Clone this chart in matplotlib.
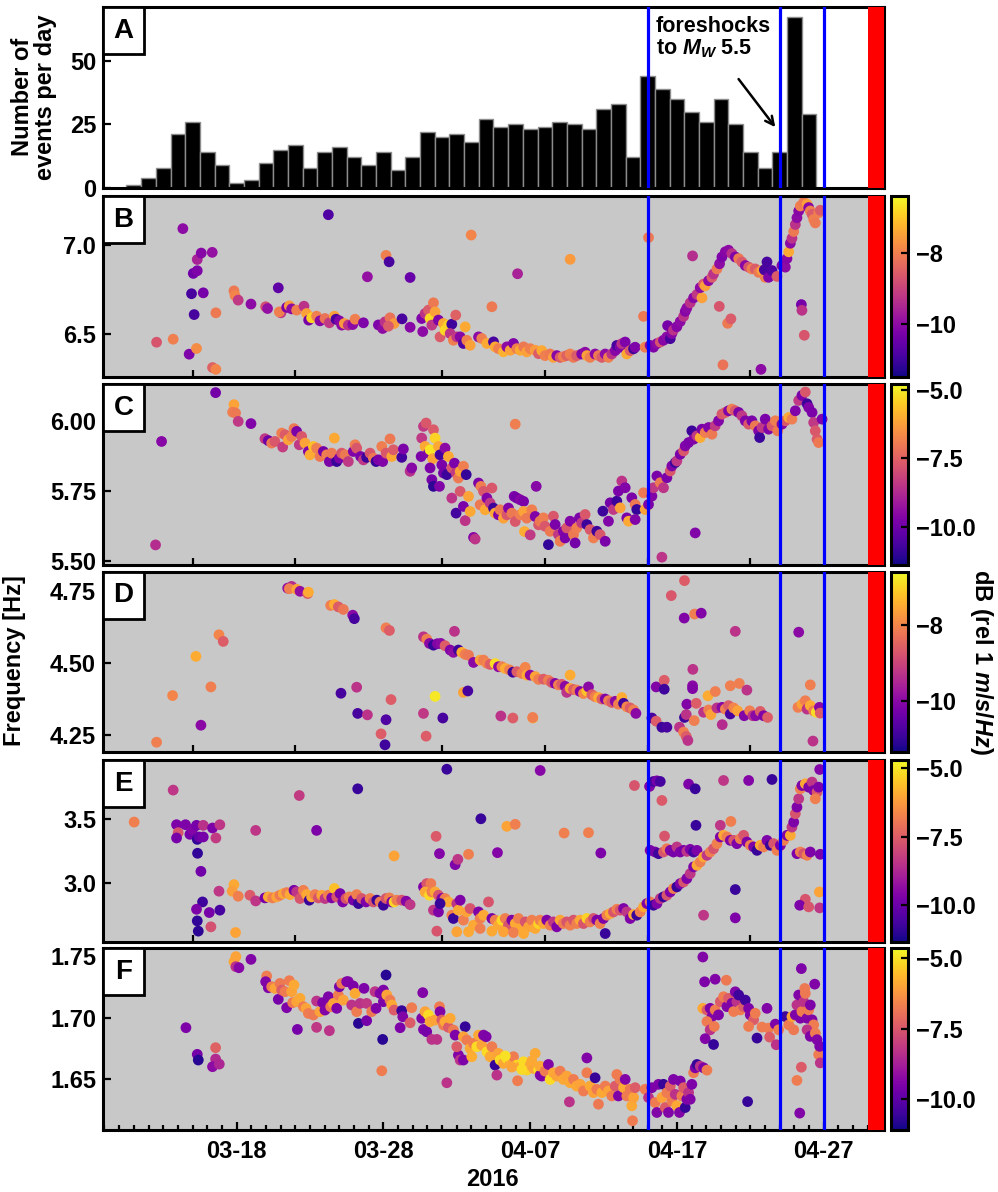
import numpy as np
import matplotlib
matplotlib.use("Agg")
import matplotlib.pyplot as plt
import matplotlib.dates as mdates
from matplotlib.patches import Rectangle
from matplotlib.ticker import FixedLocator, FormatStrFormatter, FuncFormatter

plt.rcParams["font.family"] = ["Liberation Sans", "DejaVu Sans"]
plt.rcParams["font.weight"] = "bold"
plt.rcParams["mathtext.fontset"] = "custom"
plt.rcParams["mathtext.rm"] = "Liberation Sans:bold"
plt.rcParams["mathtext.it"] = "Liberation Sans:bold:italic"
plt.rcParams["mathtext.bf"] = "Liberation Sans:bold"

# time is counted in days from 2016-02-29, so day 18 = 03-18 and day 32 = 04-01
count_days = [10, 11, 12, 13, 14, 15, 16, 17, 18, 19, 20, 21, 22, 23, 24, 25,
              26, 27, 28, 29, 30, 31, 32, 33, 34, 35, 36, 37, 38, 39, 40, 41,
              42, 43, 44, 45, 46, 47, 48, 49, 50, 51, 52, 53, 54, 55, 56, 57]
event_counts = [0, 1, 4, 8, 21, 26, 14, 9, 2, 3, 10, 15, 17, 8, 14, 16,
                12, 9, 14, 7, 12, 22, 20, 21, 18, 27, 24, 25, 23, 24, 26, 25,
                23, 31, 33, 12, 44, 39, 35, 30, 26, 35, 25, 14, 8, 14, 67, 29]

marker_days = [46.0, 55.0, 58.0]
mainshock_day = 61.0
x_start, x_end = 8.9, 62.1
label_days = [18, 28, 38, 48, 58]

# (day, frequency in Hz, level in dB)
events_b = [
    (12.55, 6.455, -8.7), (13.68, 6.472, -8.0), (14.34, 7.092, -10.0), (14.77, 6.388, -10.2),
    (14.93, 6.727, -10.9), (15.05, 6.841, -10.4), (15.32, 6.856, -10.2), (15.32, 6.919, -9.6),
    (15.59, 6.955, -10.1), (15.11, 6.610, -10.9), (15.73, 6.732, -10.3), (15.27, 6.420, -7.8),
    (16.34, 6.959, -9.9), (16.59, 6.620, -8.1), (16.36, 6.313, -8.5), (16.59, 6.303, -7.9),
    (17.82, 6.743, -8.1), (17.89, 6.717, -7.9), (18.11, 6.691, -9.2), (18.98, 6.669, -10.0),
    (19.98, 6.654, -8.8), (20.11, 6.644, -9.9), (20.84, 6.760, -10.6), (21.02, 6.620, -9.2),
    (20.91, 6.625, -8.0), (21.41, 6.650, -10.2), (21.59, 6.659, -7.6), (21.75, 6.642, -10.0),
    (22.09, 6.635, -8.0), (22.59, 6.657, -9.3), (22.77, 6.616, -7.5), (22.91, 6.579, -10.3),
    (23.11, 6.592, -6.9), (23.45, 6.601, -8.0), (23.68, 6.575, -10.1), (24.02, 6.588, -8.2),
    (24.32, 6.564, -9.2), (24.66, 6.601, -7.5), (24.77, 6.584, -10.9), (25.00, 6.575, -10.2),
    (25.16, 6.551, -10.0), (25.34, 6.560, -7.6), (25.61, 6.551, -9.3), (25.91, 6.554, -10.0),
    (26.07, 6.584, -8.0), (26.64, 6.564, -10.2), (24.25, 7.170, -10.8), (26.91, 6.822, -9.9),
    (28.18, 6.942, -8.0), (28.39, 6.906, -10.9), (27.66, 6.552, -10.2), (27.95, 6.532, -10.0),
    (28.11, 6.569, -9.3), (28.45, 6.592, -8.2), (28.73, 6.560, -7.6), (28.34, 6.545, -8.6),
    (29.27, 6.586, -10.9), (29.82, 6.539, -10.1), (29.82, 6.818, -10.5), (30.68, 6.515, -10.0),
    (30.61, 6.588, -10.2), (30.84, 6.616, -9.3), (31.07, 6.635, -8.6), (31.18, 6.588, -6.8),
    (31.41, 6.676, -8.1), (31.30, 6.551, -9.2), (31.52, 6.625, -7.5), (31.75, 6.579, -10.2),
    (31.86, 6.485, -8.6), (32.09, 6.560, -7.4), (32.20, 6.522, -6.8), (32.43, 6.551, -6.9),
    (32.66, 6.556, -11.0), (32.55, 6.504, -9.3), (32.77, 6.466, -8.0), (32.93, 6.607, -8.5),
    (33.00, 6.485, -9.2), (33.23, 6.485, -10.1), (33.45, 6.448, -10.8), (33.57, 6.541, -7.4),
    (33.68, 6.466, -8.0), (33.91, 6.438, -7.5), (33.98, 7.056, -7.9), (34.48, 6.485, -10.0),
    (34.70, 6.476, -8.0), (35.05, 6.448, -7.4), (35.39, 6.654, -8.1), (35.50, 6.457, -10.9),
    (35.61, 6.429, -7.4), (35.84, 6.419, -8.0), (36.18, 6.401, -7.3), (36.41, 6.429, -10.0),
    (36.64, 6.410, -7.5), (36.86, 6.448, -10.2), (37.09, 6.419, -8.0), (37.14, 6.839, -9.6),
    (37.32, 6.410, -7.4), (37.55, 6.429, -8.1), (37.77, 6.401, -7.5), (38.00, 6.419, -8.0),
    (38.34, 6.410, -7.6), (38.57, 6.391, -8.6), (38.79, 6.408, -7.4), (39.01, 6.380, -8.0),
    (39.36, 6.389, -8.1), (39.58, 6.370, -7.5), (39.81, 6.380, -10.1), (40.04, 6.370, -8.6),
    (40.26, 6.374, -8.0), (40.49, 6.380, -8.5), (40.72, 6.389, -8.0), (40.95, 6.370, -8.1),
    (41.17, 6.380, -8.6), (41.51, 6.389, -10.2), (41.74, 6.399, -10.0), (41.86, 6.380, -7.5),
    (42.08, 6.370, -8.0), (42.42, 6.389, -10.1), (42.65, 6.380, -8.1), (42.88, 6.370, -8.6),
    (43.11, 6.389, -10.0), (43.33, 6.370, -8.0), (43.56, 6.389, -9.3), (43.79, 6.408, -10.1),
    (43.90, 6.437, -10.9), (44.13, 6.427, -10.2), (44.24, 6.447, -9.3), (44.47, 6.456, -10.2),
    (44.58, 6.389, -7.4), (44.81, 6.408, -8.6), (45.04, 6.418, -11.0), (45.15, 6.427, -10.2),
    (40.72, 6.920, -7.6), (46.06, 7.042, -8.1), (45.72, 6.600, -8.1), (45.83, 6.427, -8.0),
    (46.17, 6.437, -10.1), (46.40, 6.427, -10.2), (46.63, 6.447, -10.0), (46.86, 6.456, -8.7),
    (47.08, 6.466, -10.1), (47.31, 6.485, -10.0), (47.36, 6.548, -10.3), (47.54, 6.475, -10.9),
    (47.65, 6.504, -10.1), (47.76, 6.523, -9.3), (47.99, 6.542, -10.1), (48.22, 6.571, -10.0),
    (48.45, 6.600, -9.3), (48.56, 6.628, -10.1), (48.67, 6.647, -10.0), (48.90, 6.676, -9.3),
    (49.13, 6.704, -10.1), (49.36, 6.723, -9.2), (49.70, 6.704, -7.5), (49.58, 6.761, -10.0),
    (49.81, 6.781, -8.6), (49.92, 6.771, -7.5), (50.15, 6.800, -10.0), (50.38, 6.819, -8.6),
    (50.49, 6.838, -9.3), (50.72, 6.866, -8.1), (50.90, 6.895, -10.0), (51.06, 6.933, -10.2),
    (51.29, 6.962, -10.1), (51.51, 6.971, -10.0), (51.74, 6.952, -9.3), (51.97, 6.933, -10.2),
    (52.20, 6.924, -8.1), (52.42, 6.905, -8.6), (52.65, 6.885, -10.1), (52.88, 6.876, -8.7),
    (53.10, 6.866, -8.0), (53.33, 6.866, -8.6), (53.56, 6.847, -8.1), (53.79, 6.857, -7.5),
    (54.01, 6.819, -8.0), (53.95, 6.861, -10.9), (54.13, 6.905, -10.9), (54.24, 6.819, -10.2),
    (54.47, 6.857, -10.8), (54.81, 6.824, -8.6), (55.15, 6.885, -10.2), (55.38, 6.876, -10.0),
    (55.49, 6.924, -10.1), (55.61, 6.962, -7.4), (55.72, 7.010, -10.0), (55.83, 7.038, -9.3),
    (55.95, 7.076, -8.1), (56.06, 7.115, -9.3), (56.17, 7.153, -10.0), (56.29, 7.191, -10.1),
    (56.40, 7.219, -8.0), (56.63, 7.239, -8.1), (56.86, 7.229, -7.5), (56.97, 7.210, -10.1),
    (57.08, 7.191, -8.0), (57.20, 7.172, -8.6), (57.31, 7.143, -8.0), (57.42, 7.124, -8.1),
    (57.65, 7.181, -8.0), (57.76, 7.195, -8.6), (49.06, 6.939, -9.4), (50.88, 6.656, -8.7),
    (51.45, 6.561, -8.1), (51.67, 6.586, -8.6), (51.13, 6.328, -8.2), (53.72, 6.303, -10.0),
    (56.47, 6.666, -10.3), (56.51, 6.634, -9.3), (56.67, 6.494, -8.7),
]

events_c = [
    (12.89, 5.928, -9.6), (12.48, 5.557, -8.7), (16.57, 6.103, -9.9), (17.82, 6.060, -6.2),
    (17.73, 6.033, -6.9), (17.93, 6.030, -7.0), (18.11, 6.000, -8.4), (18.98, 5.992, -9.7),
    (19.93, 5.938, -8.4), (20.16, 5.931, -10.0), (20.39, 5.922, -7.0), (20.61, 5.928, -7.7),
    (21.07, 5.958, -6.9), (21.14, 5.908, -8.3), (21.30, 5.952, -7.6), (21.52, 5.934, -6.2),
    (21.75, 5.946, -6.9), (21.91, 5.974, -7.0), (22.09, 5.964, -9.8), (22.27, 5.916, -8.4),
    (22.43, 5.946, -7.7), (22.66, 5.922, -6.2), (22.89, 5.892, -9.7), (23.00, 5.880, -6.0),
    (23.23, 5.910, -5.7), (23.45, 5.904, -6.9), (23.68, 5.874, -7.0), (23.91, 5.892, -9.9),
    (24.14, 5.880, -6.9), (24.32, 5.856, -9.8), (24.48, 5.886, -7.0), (24.66, 5.940, -6.1),
    (24.82, 5.856, -10.9), (25.00, 5.868, -9.8), (25.16, 5.886, -7.7), (25.39, 5.880, -7.0),
    (25.61, 5.856, -8.4), (25.95, 5.892, -9.7), (26.07, 5.916, -6.9), (26.18, 5.904, -7.7),
    (26.45, 5.874, -9.8), (26.64, 5.862, -8.4), (26.86, 5.871, -10.8), (27.09, 5.886, -7.7),
    (27.32, 5.868, -7.0), (27.50, 5.856, -10.9), (27.66, 5.862, -9.8), (27.89, 5.910, -6.9),
    (27.95, 5.856, -9.7), (28.18, 5.886, -7.7), (28.45, 5.937, -7.0), (28.57, 5.874, -6.1),
    (28.68, 5.898, -7.6), (29.25, 5.871, -10.7), (29.36, 5.901, -9.8), (29.82, 5.821, -8.6),
    (29.93, 5.833, -9.6), (30.73, 5.982, -8.4), (30.91, 5.994, -7.7), (30.61, 5.940, -8.4),
    (30.84, 5.910, -6.1), (30.57, 5.874, -9.8), (31.07, 5.886, -9.7), (31.18, 5.898, -5.1),
    (31.41, 5.970, -7.6), (31.52, 5.940, -5.4), (31.75, 5.910, -6.1), (31.36, 5.866, -6.2),
    (31.18, 5.833, -9.8), (31.30, 5.791, -9.9), (31.41, 5.767, -11.0), (31.82, 5.767, -9.7),
    (31.86, 5.880, -10.7), (31.98, 5.844, -9.8), (32.20, 5.904, -9.5), (32.09, 5.815, -9.9),
    (32.43, 5.874, -6.1), (32.32, 5.809, -10.8), (32.66, 5.833, -7.7), (32.84, 5.850, -9.8),
    (32.95, 5.815, -8.4), (33.11, 5.797, -7.0), (33.23, 5.821, -6.2), (33.45, 5.839, -6.9),
    (33.64, 5.809, -10.9), (32.66, 5.725, -8.5), (32.95, 5.671, -10.7), (33.23, 5.749, -7.7),
    (33.45, 5.695, -9.8), (33.57, 5.644, -8.5), (33.80, 5.731, -6.2), (33.91, 5.677, -6.1),
    (34.14, 5.584, -9.6), (34.25, 5.578, -8.5), (34.48, 5.779, -9.8), (34.64, 5.767, -6.9),
    (34.82, 5.749, -7.7), (34.59, 5.701, -7.0), (34.93, 5.683, -6.1), (35.05, 5.725, -9.7),
    (35.27, 5.707, -8.4), (35.39, 5.761, -7.7), (35.50, 5.689, -10.8), (35.61, 5.671, -6.1),
    (35.84, 5.665, -9.8), (35.95, 5.683, -7.0), (36.18, 5.653, -6.2), (36.41, 5.665, -7.7),
    (36.52, 5.689, -9.7), (36.75, 5.671, -7.0), (36.91, 5.731, -9.8), (37.09, 5.725, -9.9),
    (37.32, 5.719, -9.6), (37.55, 5.713, -9.8), (36.98, 5.990, -6.9), (36.98, 5.641, -7.7),
    (37.32, 5.665, -6.9), (37.55, 5.677, -6.2), (37.61, 5.605, -6.0), (37.77, 5.653, -7.0),
    (38.00, 5.593, -8.4), (38.11, 5.683, -6.9), (38.34, 5.659, -9.7), (38.41, 5.767, -9.6),
    (38.57, 5.629, -7.7), (38.67, 5.642, -7.0), (38.90, 5.654, -6.9), (39.01, 5.624, -7.7),
    (39.24, 5.558, -10.9), (39.36, 5.606, -7.0), (39.58, 5.660, -7.7), (39.70, 5.630, -9.8),
    (39.92, 5.594, -8.4), (40.04, 5.570, -6.9), (40.26, 5.606, -9.7), (40.38, 5.582, -9.8),
    (40.49, 5.618, -7.7), (40.72, 5.642, -9.7), (40.95, 5.594, -7.0), (41.06, 5.564, -9.9),
    (41.17, 5.618, -6.9), (41.36, 5.654, -9.8), (41.51, 5.636, -8.4), (41.74, 5.666, -7.7),
    (41.86, 5.630, -10.8), (42.08, 5.612, -7.7), (42.31, 5.582, -6.9), (42.54, 5.606, -10.8),
    (42.76, 5.594, -7.7), (42.95, 5.678, -10.8), (43.11, 5.570, -9.8), (43.33, 5.642, -9.7),
    (43.45, 5.708, -9.9), (43.67, 5.684, -8.4), (43.90, 5.714, -10.8), (44.01, 5.750, -9.8),
    (44.24, 5.786, -8.5), (44.47, 5.762, -9.7), (44.13, 5.690, -6.2), (44.58, 5.654, -9.8),
    (44.70, 5.642, -6.1), (44.92, 5.726, -9.8), (45.15, 5.702, -7.0), (45.26, 5.684, -10.9),
    (45.15, 5.648, -9.7), (45.72, 5.744, -7.0), (45.83, 5.684, -6.2), (46.06, 5.702, -9.8),
    (46.29, 5.732, -9.7), (46.40, 5.762, -8.4), (46.63, 5.804, -9.8), (46.86, 5.780, -7.0),
    (47.08, 5.762, -8.5), (47.31, 5.798, -9.8), (47.54, 5.822, -7.7), (47.65, 5.840, -9.7),
    (47.88, 5.852, -10.8), (47.99, 5.858, -8.4), (48.22, 5.882, -9.8), (48.45, 5.894, -7.7),
    (48.56, 5.912, -9.7), (48.79, 5.924, -9.8), (49.01, 5.966, -10.8), (49.13, 5.936, -9.7),
    (49.36, 5.948, -8.4), (49.58, 5.942, -6.0), (49.70, 5.972, -9.8), (49.92, 5.960, -6.9),
    (50.15, 5.978, -9.7), (50.38, 5.954, -7.0), (50.60, 5.984, -8.4), (50.83, 6.002, -9.7),
    (51.06, 6.026, -7.7), (51.29, 6.032, -7.6), (51.51, 6.038, -9.7), (51.74, 6.044, -6.9),
    (51.97, 6.038, -7.7), (52.20, 6.032, -9.8), (52.42, 6.020, -8.4), (52.65, 6.002, -9.7),
    (52.88, 5.990, -7.7), (53.10, 6.002, -9.8), (53.33, 5.984, -7.0), (53.56, 5.966, -9.7),
    (53.63, 5.942, -10.8), (53.79, 5.978, -8.4), (54.01, 6.008, -9.8), (54.24, 5.972, -9.7),
    (54.47, 5.984, -7.7), (54.70, 6.002, -6.9), (54.86, 5.966, -7.0), (55.15, 5.990, -9.7),
    (55.38, 6.002, -7.7), (55.61, 6.014, -6.1), (55.83, 6.008, -6.9), (56.06, 6.038, -9.7),
    (56.29, 6.075, -8.4), (56.51, 6.093, -9.8), (56.74, 6.105, -7.7), (56.86, 6.063, -10.8),
    (56.97, 6.050, -9.7), (57.20, 6.032, -9.8), (57.31, 5.996, -8.4), (57.42, 5.966, -7.7),
    (57.54, 5.936, -7.6), (57.65, 5.924, -7.0), (57.88, 6.008, -9.7), (49.24, 5.600, -9.7),
    (46.97, 5.513, -8.5),
]

events_d = [
    (12.55, 4.224, -8.1), (13.64, 4.386, -8.0), (15.57, 4.283, -10.0), (15.23, 4.522, -7.5),
    (16.25, 4.416, -8.1), (16.80, 4.597, -8.0), (17.09, 4.574, -8.6), (21.48, 4.759, -9.9),
    (21.75, 4.765, -9.4), (21.59, 4.757, -8.1), (22.09, 4.755, -7.6), (22.32, 4.748, -9.9),
    (22.84, 4.740, -8.6), (22.89, 4.745, -7.5), (24.41, 4.699, -8.1), (24.66, 4.702, -7.5),
    (24.93, 4.694, -8.6), (25.27, 4.685, -8.2), (25.91, 4.665, -10.0), (26.02, 4.653, -10.8),
    (28.18, 4.621, -8.1), (28.41, 4.612, -8.6), (25.11, 4.394, -10.8), (26.18, 4.415, -9.3),
    (26.25, 4.324, -10.8), (26.91, 4.319, -9.3), (28.18, 4.302, -10.7), (27.84, 4.253, -8.6),
    (28.11, 4.215, -10.9), (28.52, 4.372, -8.6), (30.73, 4.324, -9.2), (30.91, 4.245, -8.6),
    (31.52, 4.383, -6.8), (32.05, 4.308, -10.8), (33.45, 4.397, -7.6), (33.75, 4.402, -10.8),
    (32.84, 4.609, -9.3), (30.73, 4.590, -9.3), (30.95, 4.582, -8.1), (31.14, 4.567, -10.0),
    (31.41, 4.561, -11.0), (31.68, 4.566, -10.1), (31.91, 4.567, -10.0), (32.20, 4.559, -8.6),
    (32.55, 4.544, -10.1), (32.77, 4.536, -9.9), (33.11, 4.544, -10.9), (33.34, 4.536, -7.5),
    (33.57, 4.529, -8.1), (33.80, 4.526, -8.2), (34.14, 4.501, -10.0), (34.59, 4.509, -7.6),
    (34.82, 4.509, -8.1), (35.05, 4.498, -8.0), (35.27, 4.494, -8.6), (35.61, 4.497, -6.9),
    (35.84, 4.486, -10.0), (36.07, 4.486, -8.1), (36.30, 4.480, -7.5), (36.59, 4.475, -8.1),
    (36.82, 4.467, -10.9), (37.09, 4.469, -8.6), (37.43, 4.463, -8.1), (37.66, 4.484, -8.0),
    (37.77, 4.457, -7.5), (38.00, 4.457, -10.0), (38.34, 4.452, -7.6), (38.57, 4.442, -8.1),
    (36.00, 4.315, -9.3), (36.82, 4.308, -8.6), (38.18, 4.308, -7.5), (38.90, 4.443, -8.6),
    (39.24, 4.439, -8.1), (39.47, 4.431, -8.7), (39.70, 4.428, -10.1), (39.92, 4.423, -8.1),
    (40.15, 4.425, -8.6), (40.38, 4.418, -10.0), (40.49, 4.397, -9.3), (40.72, 4.411, -7.6),
    (40.95, 4.407, -8.6), (41.17, 4.405, -8.1), (41.40, 4.400, -10.1), (41.63, 4.393, -8.0),
    (41.86, 4.402, -7.2), (41.97, 4.416, -10.0), (42.20, 4.389, -8.6), (42.42, 4.382, -8.1),
    (42.65, 4.379, -7.5), (42.88, 4.374, -8.6), (43.11, 4.374, -10.1), (43.33, 4.368, -8.1),
    (43.56, 4.362, -8.6), (43.79, 4.366, -10.0), (44.01, 4.356, -8.1), (44.24, 4.379, -7.5),
    (44.36, 4.359, -10.9), (44.58, 4.347, -8.0), (44.81, 4.343, -8.6), (45.04, 4.336, -8.1),
    (45.20, 4.324, -10.0), (40.72, 4.457, -7.5), (38.17, 4.310, -8.1), (46.29, 4.308, -10.8),
    (46.58, 4.297, -8.6), (46.97, 4.276, -10.9), (47.31, 4.276, -10.8), (46.58, 4.416, -10.1),
    (47.13, 4.439, -8.6), (47.13, 4.408, -10.9), (48.17, 4.276, -9.3), (48.45, 4.259, -8.1),
    (48.63, 4.244, -8.6), (48.74, 4.230, -9.3), (48.51, 4.310, -10.9), (48.63, 4.320, -9.3),
    (48.67, 4.356, -10.1), (49.06, 4.420, -10.0), (49.06, 4.410, -10.1), (49.08, 4.477, -9.3),
    (49.17, 4.299, -8.1), (49.31, 4.359, -8.6), (49.81, 4.328, -9.3), (50.11, 4.385, -7.5),
    (50.15, 4.336, -8.1), (50.31, 4.320, -7.6), (50.61, 4.400, -8.1), (50.72, 4.343, -9.3),
    (51.06, 4.345, -10.0), (51.08, 4.285, -9.4), (51.29, 4.339, -8.1), (51.51, 4.351, -8.6),
    (51.63, 4.322, -10.8), (51.63, 4.420, -8.1), (51.86, 4.343, -8.0), (52.13, 4.333, -7.6),
    (52.24, 4.428, -8.1), (52.58, 4.316, -10.1), (52.76, 4.405, -9.3), (52.95, 4.333, -8.1),
    (53.17, 4.316, -9.3), (53.36, 4.316, -10.0), (53.67, 4.331, -8.6), (53.90, 4.316, -10.1),
    (54.17, 4.310, -8.6), (48.51, 4.785, -8.6), (47.61, 4.733, -8.7), (48.49, 4.655, -10.1),
    (49.20, 4.669, -8.1), (49.65, 4.672, -10.1), (51.97, 4.609, -9.3), (56.29, 4.606, -10.0),
    (57.08, 4.423, -8.1), (56.24, 4.345, -8.1), (56.51, 4.356, -7.6), (56.74, 4.368, -8.1),
    (56.86, 4.339, -9.3), (57.08, 4.351, -7.5), (57.31, 4.333, -8.1), (57.49, 4.328, -6.9),
    (57.70, 4.345, -10.0), (57.76, 4.325, -8.6), (57.26, 4.228, -9.3),
]

events_e = [
    (11.02, 3.479, -6.8), (13.68, 3.732, -8.4), (13.91, 3.458, -9.7), (14.02, 3.395, -7.7),
    (13.91, 3.353, -9.8), (14.52, 3.458, -9.7), (14.82, 3.382, -9.8), (15.00, 3.421, -9.6),
    (15.27, 3.453, -9.8), (15.32, 3.342, -10.9), (15.45, 3.361, -10.0), (15.73, 3.453, -8.5),
    (15.73, 3.361, -9.8), (16.36, 3.432, -9.7), (16.59, 3.353, -8.3), (16.86, 3.458, -8.4),
    (15.34, 3.232, -10.9), (15.57, 3.089, -9.9), (15.68, 2.847, -10.7), (15.27, 2.789, -9.7),
    (15.32, 2.697, -10.9), (15.39, 2.616, -11.0), (16.14, 2.763, -9.8), (16.25, 2.650, -7.8),
    (16.86, 2.782, -10.6), (16.80, 2.932, -8.4), (17.82, 2.984, -6.0), (17.70, 2.932, -6.2),
    (18.11, 2.892, -6.8), (18.91, 2.900, -7.6), (19.30, 2.855, -8.4), (17.93, 2.605, -6.1),
    (19.30, 3.413, -8.4), (22.27, 3.689, -8.3), (23.45, 3.413, -9.7), (26.25, 3.742, -10.8),
    (28.73, 3.211, -6.1), (19.93, 2.879, -9.8), (20.16, 2.887, -6.0), (20.45, 2.879, -6.8),
    (20.73, 2.887, -6.1), (20.95, 2.900, -6.9), (21.18, 2.913, -6.0), (21.41, 2.921, -6.8),
    (21.64, 2.905, -6.0), (21.91, 2.939, -9.8), (22.09, 2.926, -8.4), (22.32, 2.874, -7.7),
    (22.55, 2.939, -6.8), (22.77, 2.905, -6.0), (22.95, 2.861, -10.8), (23.11, 2.887, -6.0),
    (23.34, 2.905, -6.8), (23.57, 2.879, -7.7), (23.80, 2.900, -6.1), (24.02, 2.874, -8.4),
    (24.25, 2.900, -6.8), (24.48, 2.879, -9.7), (24.66, 2.953, -5.6), (24.82, 2.887, -7.7),
    (25.05, 2.913, -9.8), (25.23, 2.847, -9.7), (25.45, 2.874, -7.7), (25.68, 2.887, -6.8),
    (25.95, 2.861, -9.8), (26.18, 2.905, -6.8), (26.30, 2.834, -10.8), (26.52, 2.874, -7.7),
    (26.82, 2.847, -9.7), (27.09, 2.874, -6.8), (27.32, 2.847, -7.7), (27.55, 2.861, -10.8),
    (27.77, 2.847, -6.9), (28.00, 2.821, -10.8), (28.18, 2.874, -7.7), (28.41, 2.879, -6.8),
    (28.57, 2.847, -9.7), (28.73, 2.847, -5.2), (28.91, 2.861, -6.8), (29.25, 2.861, -7.7),
    (29.55, 2.853, -9.6), (29.82, 2.826, -8.4), (30.73, 2.966, -9.7), (30.95, 2.992, -7.7),
    (31.23, 2.992, -6.9), (30.84, 2.926, -6.0), (31.14, 2.900, -5.2), (31.30, 2.926, -6.8),
    (31.52, 2.926, -6.0), (31.75, 2.900, -7.7), (31.98, 2.874, -9.7), (32.20, 2.874, -6.8),
    (32.43, 2.847, -6.0), (31.41, 2.782, -8.4), (31.75, 2.768, -9.7), (31.86, 2.834, -10.8),
    (32.66, 2.742, -6.8), (32.77, 2.716, -10.8), (33.00, 2.834, -8.4), (33.11, 2.782, -6.0),
    (33.23, 2.861, -9.7), (33.45, 2.703, -6.8), (33.68, 2.768, -6.1), (33.91, 2.795, -7.7),
    (34.14, 2.663, -6.0), (34.48, 2.768, -9.7), (34.59, 2.716, -6.8), (34.82, 2.742, -6.0),
    (35.16, 2.847, -7.7), (35.39, 2.716, -9.8), (35.61, 2.703, -6.8), (35.84, 2.663, -6.0),
    (36.07, 2.703, -5.2), (36.30, 2.716, -6.8), (36.52, 2.663, -7.7), (36.75, 2.703, -9.7),
    (36.98, 2.676, -6.0), (37.20, 2.716, -6.8), (37.43, 2.637, -6.0), (37.66, 2.689, -7.7),
    (37.89, 2.650, -6.1), (38.11, 2.703, -6.8), (38.34, 2.637, -6.0), (38.57, 2.676, -5.3),
    (33.00, 2.611, -6.1), (33.80, 2.611, -6.0), (34.59, 2.637, -6.8), (35.39, 2.616, -6.0),
    (36.18, 2.611, -6.1), (36.86, 2.605, -6.8), (37.55, 2.597, -6.0), (31.64, 2.616, -7.7),
    (31.59, 3.366, -7.6), (31.82, 3.229, -9.6), (32.89, 3.142, -9.7), (33.07, 3.184, -8.4),
    (33.80, 3.224, -6.8), (32.32, 3.897, -10.8), (34.64, 3.505, -10.8), (35.77, 3.237, -9.6),
    (36.41, 3.445, -6.1), (36.98, 3.461, -6.8), (38.68, 3.887, -9.5), (40.31, 3.392, -6.8),
    (41.97, 3.395, -6.8), (42.81, 3.234, -9.7), (45.10, 3.768, -7.7), (46.13, 3.761, -9.7),
    (46.40, 3.800, -10.6), (46.63, 3.805, -9.8), (46.86, 3.800, -10.6), (46.97, 3.650, -7.6),
    (48.79, 3.779, -9.7), (49.24, 3.742, -10.8), (51.17, 3.808, -8.4), (52.88, 3.808, -9.6),
    (54.47, 3.816, -10.8), (49.29, 3.453, -10.8), (50.95, 3.453, -8.4), (51.67, 3.484, -6.8),
    (47.15, 3.368, -7.7), (46.17, 3.255, -9.7), (46.51, 3.242, -9.8), (46.74, 3.229, -10.7),
    (47.08, 3.242, -7.7), (47.31, 3.268, -6.9), (47.54, 3.255, -9.7), (47.76, 3.242, -9.8),
    (47.99, 3.282, -8.4), (48.22, 3.242, -9.7), (48.45, 3.255, -9.8), (48.67, 3.247, -8.4),
    (48.90, 3.263, -9.7), (49.13, 3.242, -10.6), (49.36, 3.255, -9.7), (38.67, 2.703, -6.8),
    (38.90, 2.676, -6.0), (39.13, 2.703, -9.7), (39.36, 2.663, -6.8), (39.58, 2.689, -8.4),
    (39.81, 2.650, -9.7), (40.04, 2.703, -6.0), (40.26, 2.676, -6.8), (40.49, 2.689, -7.7),
    (40.72, 2.663, -6.8), (40.95, 2.703, -7.7), (41.17, 2.676, -6.8), (41.40, 2.703, -6.0),
    (41.63, 2.676, -7.7), (41.86, 2.716, -5.3), (42.08, 2.689, -6.8), (42.31, 2.716, -7.7),
    (42.54, 2.703, -9.7), (42.76, 2.676, -6.8), (42.99, 2.716, -9.7), (43.11, 2.597, -10.8),
    (43.22, 2.742, -6.8), (43.45, 2.755, -6.0), (43.67, 2.768, -7.7), (43.90, 2.789, -6.8),
    (44.13, 2.782, -7.7), (44.36, 2.795, -9.7), (44.58, 2.768, -8.4), (44.81, 2.716, -9.7),
    (45.04, 2.747, -6.0), (45.26, 2.742, -10.8), (45.49, 2.768, -6.8), (45.72, 2.808, -6.0),
    (45.95, 2.834, -9.7), (46.17, 2.847, -6.8), (46.40, 2.821, -10.8), (46.63, 2.834, -9.7),
    (46.86, 2.874, -8.4), (47.08, 2.887, -10.8), (47.31, 2.900, -7.7), (47.54, 2.926, -9.7),
    (47.76, 2.953, -6.8), (47.99, 2.966, -10.8), (48.22, 2.992, -9.7), (48.45, 3.005, -7.7),
    (48.67, 3.032, -9.7), (48.90, 3.071, -8.4), (49.13, 3.124, -9.7), (49.36, 3.137, -6.0),
    (49.58, 3.163, -6.8), (49.81, 3.203, -6.0), (50.04, 3.216, -8.4), (50.26, 3.242, -6.8),
    (50.49, 3.268, -7.7), (50.72, 3.308, -6.8), (50.95, 3.361, -9.7), (51.17, 3.374, -6.0),
    (51.40, 3.361, -6.8), (51.63, 3.334, -9.7), (51.86, 3.334, -7.7), (52.08, 3.308, -9.7),
    (52.31, 3.347, -6.8), (52.54, 3.374, -7.7), (52.76, 3.321, -9.7), (52.99, 3.295, -6.8),
    (53.22, 3.282, -9.7), (53.45, 3.255, -10.8), (53.67, 3.295, -6.0), (53.90, 3.282, -6.8),
    (54.13, 3.334, -9.7), (54.36, 3.295, -10.8), (54.58, 3.308, -7.7), (54.81, 3.255, -6.8),
    (55.04, 3.295, -9.7), (55.26, 3.334, -6.8), (55.49, 3.374, -9.7), (55.72, 3.374, -6.0),
    (55.83, 3.439, -8.4), (55.95, 3.479, -9.7), (56.06, 3.545, -7.7), (56.17, 3.597, -9.7),
    (56.29, 3.663, -8.4), (56.40, 3.742, -6.8), (56.51, 3.768, -9.7), (56.74, 3.782, -6.0),
    (56.97, 3.755, -9.7), (57.20, 3.795, -8.4), (57.31, 3.729, -9.7), (57.54, 3.716, -7.7),
    (57.65, 3.755, -9.7), (57.42, 3.663, -6.8), (57.72, 3.895, -9.6), (56.17, 3.229, -9.7),
    (56.40, 3.242, -6.8), (56.63, 3.229, -7.7), (56.86, 3.216, -6.8), (57.08, 3.242, -9.7),
    (57.76, 3.224, -9.7), (57.70, 2.926, -6.1), (56.74, 2.868, -7.7), (56.36, 2.821, -9.7),
    (56.97, 2.808, -7.7), (57.72, 2.800, -8.4), (51.97, 2.945, -10.8), (49.81, 2.742, -8.4),
    (51.97, 2.721, -9.7),
]

events_f = [
    (14.55, 1.6919, -9.5), (15.32, 1.6703, -9.6), (15.39, 1.6657, -10.8), (16.57, 1.6757, -7.3),
    (16.57, 1.6665, -8.5), (16.36, 1.6603, -9.2), (16.82, 1.6624, -8.6), (17.82, 1.7454, -5.9),
    (17.95, 1.7495, -6.0), (17.95, 1.7414, -8.3), (18.16, 1.7405, -9.3), (18.98, 1.7473, -9.4),
    (20.05, 1.7338, -6.7), (19.98, 1.7292, -9.4), (20.16, 1.7243, -9.5), (20.39, 1.7251, -6.7),
    (20.61, 1.7238, -6.0), (20.84, 1.7149, -9.6), (20.95, 1.7278, -6.8), (21.07, 1.7224, -7.4),
    (21.30, 1.7211, -6.7), (21.41, 1.7081, -9.5), (21.59, 1.7300, -6.7), (21.75, 1.7211, -6.0),
    (21.91, 1.7265, -5.9), (21.82, 1.7122, -6.8), (22.09, 1.7130, -6.0), (22.14, 1.6905, -9.6),
    (22.32, 1.7157, -5.9), (22.55, 1.7089, -6.7), (22.73, 1.7076, -6.0), (22.89, 1.7035, -6.7),
    (23.23, 1.7022, -6.8), (23.45, 1.7135, -8.3), (23.45, 1.6922, -8.2), (23.68, 1.7049, -6.0),
    (23.86, 1.7122, -9.5), (24.02, 1.7062, -9.4), (24.25, 1.7170, -9.5), (24.32, 1.6895, -8.3),
    (24.41, 1.7089, -6.7), (24.59, 1.7116, -6.0), (24.82, 1.7076, -9.5), (24.93, 1.7184, -6.7),
    (25.00, 1.7251, -9.6), (25.16, 1.7278, -6.8), (25.27, 1.7143, -6.0), (25.50, 1.7292, -9.5),
    (25.61, 1.7292, -9.4), (25.84, 1.7103, -8.3), (25.95, 1.7257, -9.5), (26.07, 1.7197, -5.9),
    (26.18, 1.7049, -6.7), (26.30, 1.6954, -10.8), (26.41, 1.7116, -8.3), (26.68, 1.7238, -9.5),
    (26.86, 1.7116, -8.2), (26.86, 1.6976, -9.6), (27.20, 1.7049, -6.8), (27.43, 1.7211, -8.3),
    (27.50, 1.7076, -9.5), (27.77, 1.7197, -9.4), (28.00, 1.7224, -9.5), (28.18, 1.7346, -10.8),
    (28.00, 1.7130, -9.5), (28.23, 1.7184, -6.0), (28.45, 1.7143, -6.7), (28.57, 1.7103, -5.9),
    (28.73, 1.7062, -7.4), (27.95, 1.6824, -10.8), (27.89, 1.6570, -6.7), (29.25, 1.7057, -10.6),
    (29.14, 1.6919, -9.5), (29.32, 1.7008, -9.4), (29.82, 1.6959, -7.4), (29.93, 1.7081, -6.7),
    (30.68, 1.7203, -9.4), (30.61, 1.6995, -9.5), (30.84, 1.7049, -6.0), (30.73, 1.6905, -9.5),
    (30.95, 1.6886, -9.6), (31.07, 1.7022, -5.1), (31.18, 1.6968, -5.9), (31.30, 1.6824, -8.3),
    (31.52, 1.6981, -6.0), (31.64, 1.6824, -8.3), (31.82, 1.7089, -6.7), (31.86, 1.7049, -9.4),
    (31.98, 1.6981, -7.4), (32.09, 1.6941, -6.7), (32.20, 1.6968, -5.9), (32.32, 1.6473, -8.3),
    (32.43, 1.6922, -7.4), (32.55, 1.6995, -5.9), (32.77, 1.6900, -6.7), (32.89, 1.6859, -9.5),
    (33.11, 1.6697, -9.4), (33.00, 1.6765, -7.4), (33.23, 1.6657, -8.3), (33.45, 1.6657, -9.5),
    (33.57, 1.6927, -10.6), (33.45, 1.6846, -6.0), (33.68, 1.6819, -6.7), (33.91, 1.6751, -5.9),
    (34.02, 1.6684, -5.8), (34.14, 1.6792, -6.7), (34.36, 1.6765, -5.1), (34.48, 1.6859, -5.9),
    (34.70, 1.6778, -6.0), (34.82, 1.6859, -9.4), (35.00, 1.6846, -9.5), (35.05, 1.6724, -5.1),
    (35.27, 1.6684, -5.9), (35.39, 1.6765, -6.7), (35.61, 1.6616, -10.6), (35.73, 1.6535, -8.3),
    (35.84, 1.6711, -6.0), (35.95, 1.6657, -5.1), (36.18, 1.6630, -5.9), (36.41, 1.6670, -5.1),
    (36.64, 1.6630, -5.9), (36.86, 1.6684, -6.7), (37.09, 1.6616, -5.2), (37.14, 1.6489, -6.7),
    (37.32, 1.6603, -5.9), (37.55, 1.6643, -5.1), (37.77, 1.6576, -5.2), (38.00, 1.6616, -5.9),
    (38.23, 1.6589, -6.0), (38.34, 1.6711, -5.9), (38.57, 1.6576, -5.1), (38.68, 1.6535, -9.4),
    (36.30, 1.6690, -5.0), (36.75, 1.6600, -6.0), (37.43, 1.6580, -5.1), (38.11, 1.6650, -5.9),
    (38.67, 1.6607, -5.9), (38.79, 1.6527, -9.5), (39.01, 1.6567, -6.7), (39.24, 1.6621, -9.4),
    (39.36, 1.6500, -5.1), (39.58, 1.6554, -5.9), (39.81, 1.6527, -6.0), (40.04, 1.6567, -6.7),
    (40.26, 1.6500, -5.9), (40.49, 1.6527, -6.0), (40.67, 1.6318, -8.3), (40.72, 1.6473, -5.9),
    (40.95, 1.6500, -6.7), (41.17, 1.6446, -5.9), (41.40, 1.6460, -6.0), (41.63, 1.6406, -6.7),
    (41.86, 1.6674, -9.4), (41.86, 1.6554, -6.7), (42.08, 1.6446, -5.9), (42.31, 1.6393, -6.0),
    (42.42, 1.6513, -10.6), (42.54, 1.6420, -6.7), (42.65, 1.6299, -6.8), (42.88, 1.6393, -5.9),
    (43.11, 1.6446, -6.7), (43.33, 1.6406, -6.0), (43.56, 1.6366, -6.7), (43.79, 1.6446, -7.4),
    (43.90, 1.6540, -6.7), (44.01, 1.6366, -9.5), (44.13, 1.6500, -6.7), (44.36, 1.6433, -5.9),
    (44.47, 1.6500, -9.4), (44.58, 1.6366, -6.7), (44.81, 1.6420, -6.8), (44.92, 1.6286, -5.9),
    (45.04, 1.6353, -6.0), (45.15, 1.6433, -7.4), (44.97, 1.6165, -6.7), (45.83, 1.6420, -6.7),
    (46.06, 1.6353, -8.3), (46.29, 1.6433, -9.5), (46.51, 1.6312, -6.7), (46.63, 1.6232, -9.4),
    (46.74, 1.6460, -9.5), (46.97, 1.6353, -6.0), (47.08, 1.6460, -10.6), (47.20, 1.6272, -7.4),
    (47.31, 1.6393, -6.7), (47.42, 1.6232, -9.4), (47.54, 1.6446, -7.4), (47.65, 1.6326, -6.7),
    (47.76, 1.6500, -9.5), (47.88, 1.6379, -8.3), (47.99, 1.6286, -5.9), (48.17, 1.6232, -9.4),
    (48.22, 1.6487, -9.5), (48.33, 1.6366, -6.7), (48.45, 1.6433, -7.4), (48.56, 1.6272, -10.6),
    (48.67, 1.6339, -9.5), (48.79, 1.6393, -8.3), (48.90, 1.6339, -9.4), (49.01, 1.6460, -9.5),
    (49.13, 1.6554, -6.7), (49.24, 1.6594, -9.5), (49.36, 1.6621, -10.6), (49.58, 1.6607, -8.3),
    (49.81, 1.6594, -9.5), (50.04, 1.6575, -6.7), (49.76, 1.7492, -9.4), (49.88, 1.7291, -9.5),
    (50.60, 1.7312, -9.4), (51.36, 1.7304, -6.8), (49.76, 1.7076, -5.9), (50.04, 1.7063, -7.4),
    (50.26, 1.7076, -9.5), (50.38, 1.7009, -9.4), (50.60, 1.7063, -6.7), (50.83, 1.7023, -9.5),
    (50.95, 1.7130, -7.4), (51.17, 1.7170, -6.7), (51.40, 1.7090, -9.4), (51.51, 1.7157, -7.4),
    (51.74, 1.7117, -9.5), (51.86, 1.7050, -6.7), (51.97, 1.7210, -9.4), (52.08, 1.7130, -8.3),
    (52.20, 1.7184, -10.5), (52.31, 1.7063, -6.7), (52.54, 1.7090, -7.4), (52.65, 1.7143, -10.5),
    (52.88, 1.7076, -9.5), (52.99, 1.7023, -9.4), (53.22, 1.6983, -7.4), (53.33, 1.7036, -6.7),
    (52.88, 1.6929, -6.7), (50.04, 1.6969, -6.7), (50.26, 1.6902, -8.3), (50.54, 1.6929, -6.7),
    (49.92, 1.6830, -9.4), (50.49, 1.6783, -10.6), (53.45, 1.6835, -10.6), (53.79, 1.6924, -6.7),
    (54.13, 1.7076, -9.4), (54.24, 1.6916, -6.7), (54.31, 1.6843, -7.4), (54.70, 1.6948, -9.5),
    (54.76, 1.6781, -8.3), (54.92, 1.6902, -6.7), (55.38, 1.7009, -10.5), (55.61, 1.6942, -6.7),
    (55.83, 1.7009, -6.0), (55.95, 1.6902, -6.8), (56.06, 1.7023, -9.5), (56.17, 1.7103, -8.3),
    (56.29, 1.7184, -9.4), (56.40, 1.6996, -9.5), (56.51, 1.7050, -6.7), (56.63, 1.7130, -8.3),
    (56.74, 1.7197, -6.8), (56.86, 1.6996, -9.4), (56.97, 1.7063, -6.7), (57.08, 1.7103, -9.5),
    (57.20, 1.6983, -9.4), (57.31, 1.6942, -6.7), (57.38, 1.7272, -9.4), (56.47, 1.7398, -9.5),
    (56.70, 1.7237, -6.8), (56.86, 1.6902, -8.3), (57.08, 1.6849, -9.5), (57.42, 1.6875, -6.7),
    (57.54, 1.6822, -9.4), (57.65, 1.6701, -6.7), (57.72, 1.6768, -9.5), (57.76, 1.6634, -8.3),
    (56.47, 1.6599, -7.4), (56.17, 1.6492, -6.7), (56.36, 1.6227, -9.4), (52.81, 1.6320, -10.6),
]

# letter, events, frequency limits, frequency ticks, tick format, dB limits, dB ticks, dB format
panels = [
    ("B", events_b, (6.26, 7.275), [6.5, 7.0], "%.1f", (-11.48, -6.41), [-10, -8], "{:.0f}"),
    ("C", events_c, (5.485, 6.134), [5.50, 5.75, 6.00], "%.2f", (-11.38, -4.79), [-10, -7.5, -5], "{:.1f}"),
    ("D", events_d, (4.19, 4.815), [4.25, 4.50, 4.75], "%.2f", (-11.34, -6.6), [-10, -8], "{:.0f}"),
    ("E", events_e, (2.53, 3.97), [3.0, 3.5], "%.1f", (-11.34, -4.7), [-10, -7.5, -5], "{:.1f}"),
    ("F", events_f, (1.609, 1.7565), [1.65, 1.70, 1.75], "%.2f", (-11.09, -4.63), [-10, -7.5, -5], "{:.1f}"),
]

BASE = np.datetime64("2016-02-29T00:00")
TICK_SIZE = 17


def to_date(day):
    minutes = np.round(np.asarray(day, dtype=float) * 1440).astype("int64")
    return BASE + minutes.astype("timedelta64[m]")


def add_letter(ax, letter):
    ax.add_patch(Rectangle((0, 0.74), 0.0525, 0.26, transform=ax.transAxes,
                           facecolor="white", edgecolor="black", linewidth=2,
                           zorder=6, clip_on=False))
    ax.text(0.02625, 0.87, letter, transform=ax.transAxes, ha="center", va="center",
            fontsize=20, fontweight="bold", zorder=7)


def decorate(ax):
    for d in marker_days:
        ax.axvline(to_date(d), color="#0000ff", linewidth=2.3, zorder=4)
    ax.axvspan(to_date(mainshock_day), to_date(x_end), color="#ff0000", linewidth=0, zorder=4)
    ax.set_xlim(to_date(x_start), to_date(x_end))
    for spine in ax.spines.values():
        spine.set_linewidth(2.2)
    ax.tick_params(axis="both", which="both", direction="in", width=1.6, labelsize=TICK_SIZE)
    ax.tick_params(axis="y", which="major", length=6, right=True, pad=5)
    ax.tick_params(axis="x", which="major", length=5, top=False)


fig = plt.figure(figsize=(9.98, 11.92), dpi=100)
fig_w, fig_h = 998.0, 1192.0
left_px, right_px = 103, 884
cbar_left, cbar_right = 891, 908
tops = [7, 196, 384, 572, 760, 948]
bottoms = [188, 377, 565, 752, 942, 1130]


def frame(left, right, top, bottom):
    return [left / fig_w, 1 - bottom / fig_h, (right - left) / fig_w, (bottom - top) / fig_h]


# daily event counts
ax_a = fig.add_axes(frame(left_px, right_px, tops[0], bottoms[0]))
ax_a.bar(to_date(count_days), event_counts, width=1.0, color="black",
         edgecolor="#8c8c8c", linewidth=1, zorder=2)
decorate(ax_a)
ax_a.set_ylim(0, 71)
ax_a.yaxis.set_major_locator(FixedLocator([0, 25, 50]))
ax_a.xaxis.set_major_locator(mdates.DayLocator(bymonthday=[1, 8, 15, 22]))
ax_a.xaxis.set_ticklabels([])
add_letter(ax_a, "A")
ax_a.text(to_date(46.56), 67.5, "foreshocks\nto $M_W$ 5.5", ha="left", va="top",
          fontsize=15.5, fontweight="bold", linespacing=1.05, zorder=5)
ax_a.annotate("", xy=(to_date(54.81), 23.0), xytext=(to_date(52.08), 43.6),
              arrowprops=dict(arrowstyle="->,head_length=0.6,head_width=0.3",
                              color="black", linewidth=1.8), zorder=5)

for i, (letter, events, ylim, yticks, yfmt, clim, cticks, cfmt) in enumerate(panels, start=1):
    ax = fig.add_axes(frame(left_px, right_px, tops[i], bottoms[i]))
    ax.set_facecolor("#c8c8c8")
    days = [e[0] for e in events]
    freqs = [e[1] for e in events]
    levels = [e[2] for e in events]
    sc = ax.scatter(to_date(days), freqs, c=levels, cmap="plasma", vmin=clim[0], vmax=clim[1],
                    s=60, linewidths=0, zorder=2)
    decorate(ax)
    ax.set_ylim(*ylim)
    ax.yaxis.set_major_locator(FixedLocator(yticks))
    ax.yaxis.set_major_formatter(FormatStrFormatter(yfmt))
    add_letter(ax, letter)

    if letter == "F":
        ax.xaxis.set_major_locator(FixedLocator(mdates.date2num(to_date(label_days))))
        ax.xaxis.set_major_formatter(mdates.DateFormatter("%m-%d"))
        ax.xaxis.set_minor_locator(mdates.DayLocator())
        ax.tick_params(axis="x", which="major", length=6, pad=7)
        ax.tick_params(axis="x", which="minor", length=3.5, top=False)
    else:
        ax.xaxis.set_major_locator(mdates.DayLocator(bymonthday=[1, 8, 15, 22]))
        ax.xaxis.set_ticklabels([])

    cax = fig.add_axes(frame(cbar_left, cbar_right, tops[i], bottoms[i]))
    cb = fig.colorbar(sc, cax=cax)
    cb.outline.set_linewidth(2.2)
    cb.set_ticks(cticks)
    cb.ax.yaxis.set_major_formatter(
        FuncFormatter(lambda v, _, f=cfmt: f.format(v).replace("-", "\u2212")))
    cb.ax.minorticks_off()
    cb.ax.tick_params(direction="in", length=5, width=1.6, labelsize=TICK_SIZE, pad=6)

fig.text(15 / fig_w, 1 - 661 / fig_h, "Frequency [Hz]", rotation=90, ha="center", va="center",
         fontsize=17, fontweight="bold")
fig.text(34 / fig_w, 1 - 97 / fig_h, "Number of\nevents per day", rotation=90, ha="center",
         va="center", fontsize=17, fontweight="bold", multialignment="center", linespacing=1.0)
fig.text(982 / fig_w, 1 - 662 / fig_h, "dB (rel 1 $m/s/Hz$)", rotation=270, ha="center",
         va="center", fontsize=17, fontweight="bold")
fig.text(492 / fig_w, 1 - 1179 / fig_h, "2016", ha="center", va="center",
         fontsize=17, fontweight="bold")

fig.savefig("out.png", dpi=100)
